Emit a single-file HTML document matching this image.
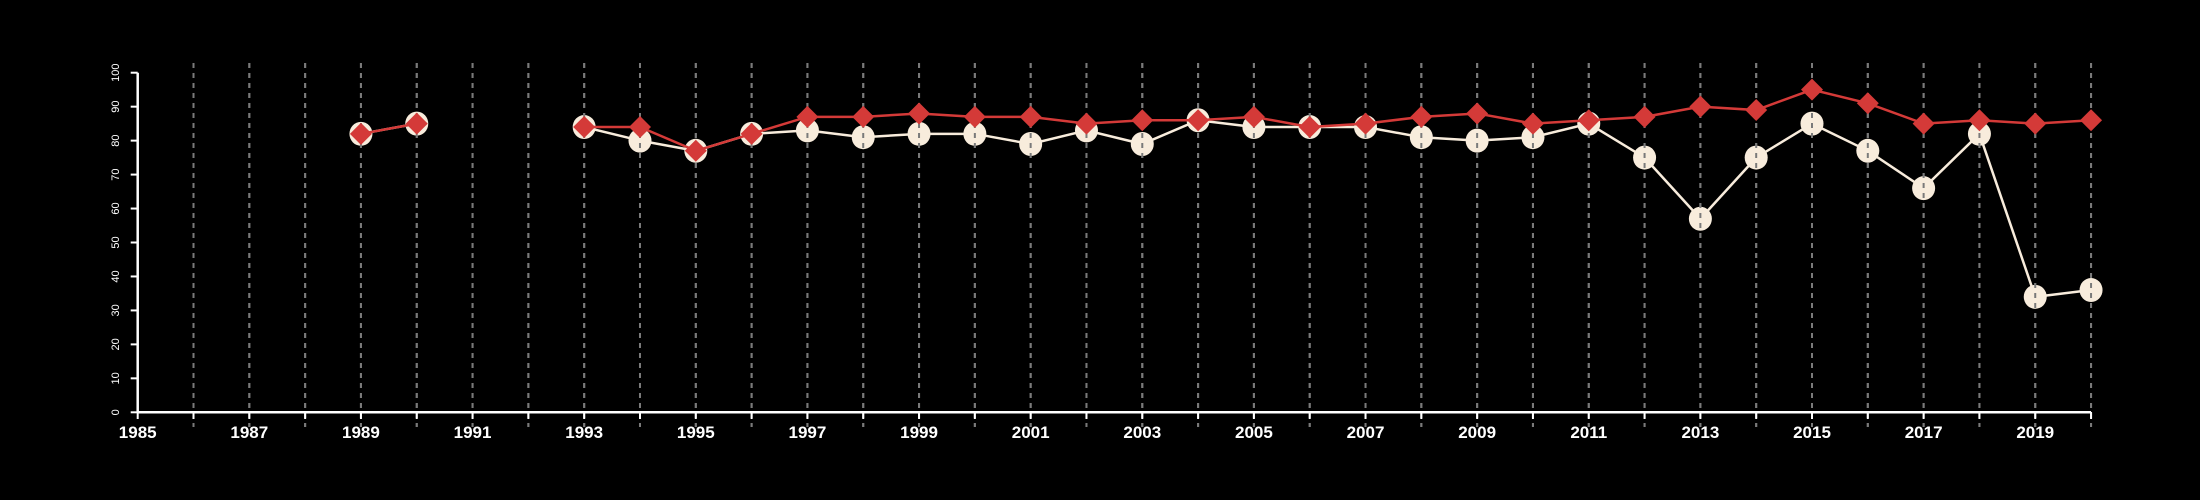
<!DOCTYPE html>
<html><head><meta charset="utf-8"><style>
html,body{margin:0;padding:0;background:#000;width:2200px;height:500px;overflow:hidden}
svg{display:block}
</style></head><body>
<svg id="chart" width="2200" height="500" xmlns="http://www.w3.org/2000/svg" style="font-family:'Liberation Sans',sans-serif">
<rect width="2200" height="500" fill="#000"/>
<g id="grid"></g>
<g id="beige"></g>
<g id="grid2"></g>
<g id="red"></g>
<g id="axes"></g>
</svg>
<script>
const years=[1989,1990,1993,1994,1995,1996,1997,1998,1999,2000,2001,2002,2003,2004,2005,2006,2007,2008,2009,2010,2011,2012,2013,2014,2015,2016,2017,2018,2019,2020];
const redVals=[82,85,84,84,77,82,87,87,88,87,87,85,86,86,87,84,85,87,88,85,86,87,90,89,95,91,85,86,85,86];
const beigeVals=[82,85,84,80,77,82,83,81,82,82,79,83,79,86,84,84,84,81,80,81,85,75,57,75,85,77,66,82,34,36];
const yTicks=[0,10,20,30,40,50,60,70,80,90,100];
const xTickLabels=[1985,1987,1989,1991,1993,1995,1997,1999,2001,2003,2005,2007,2009,2011,2013,2015,2017,2019];
const NS='http://www.w3.org/2000/svg';
const X=y=>137.7+(y-1985)*55.81;
const Y=v=>412.3-v*3.396;
function el(t,a,p){const e=document.createElementNS(NS,t);for(const k in a)e.setAttribute(k,a[k]);p.appendChild(e);return e;}
const grid=document.getElementById('grid'),grid2=document.getElementById('grid2'),axes=document.getElementById('axes');
for(let yr=1986;yr<=2020;yr++){
  for(const g of [grid,grid2]){
    const l=el('line',{x1:X(yr),x2:X(yr),y1:63,y2:427,stroke:'#7a7a7a','stroke-width':2,'stroke-dasharray':'5,5'},g);
    
    
  }
}
function segments(vals){const segs=[];let cur=[];for(let i=0;i<years.length;i++){if(i>0&&years[i]-years[i-1]>1){segs.push(cur);cur=[];}cur.push([X(years[i]),Y(vals[i])]);}segs.push(cur);return segs;}
const beige=document.getElementById('beige'),red=document.getElementById('red');
segments(beigeVals).forEach(s=>{const p=el('polyline',{points:s.map(q=>q.join(',')).join(' '),fill:'none',stroke:'#f8ecdc','stroke-width':2.5},beige);});
years.forEach((yr,i)=>{const c=el('ellipse',{cx:X(yr),cy:Y(beigeVals[i]),rx:11.5,ry:12,fill:'#f8ecdc'},beige);});
segments(redVals).forEach(s=>{const p=el('polyline',{points:s.map(q=>q.join(',')).join(' '),fill:'none',stroke:'#d43a38','stroke-width':2.5},red);});
years.forEach((yr,i)=>{const x=X(yr),y=Y(redVals[i]),r=11;const d=el('polygon',{points:`${x},${y-r} ${x+r},${y} ${x},${y+r} ${x-r},${y}`,fill:'#d43a38'},red);});
let a=el('line',{x1:X(1985),x2:X(2020),y1:412.3,y2:412.3,stroke:'#fff','stroke-width':2.5},axes);
a=el('line',{x1:X(1985),x2:X(1985),y1:Y(0),y2:Y(100),stroke:'#fff','stroke-width':2.5},axes);
for(let yr=1985;yr<=2020;yr++){const t=el('line',{x1:X(yr),x2:X(yr),y1:412,y2:419,stroke:'#fff','stroke-width':2},axes);}
xTickLabels.forEach(yr=>{const t=el('text',{x:X(yr),y:438,fill:'#fff','font-size':17,'font-weight':'bold','text-anchor':'middle'},axes);t.textContent=yr;});
yTicks.forEach(v=>{const t=el('line',{x1:X(1985)-7,x2:X(1985),y1:Y(v),y2:Y(v),stroke:'#fff','stroke-width':2},axes);
const tx=el('text',{x:0,y:0,fill:'#fff','font-size':11,'text-anchor':'middle',transform:`translate(119,${Y(v)}) rotate(-90)`},axes);tx.textContent=v;});
</script>
</body></html>
